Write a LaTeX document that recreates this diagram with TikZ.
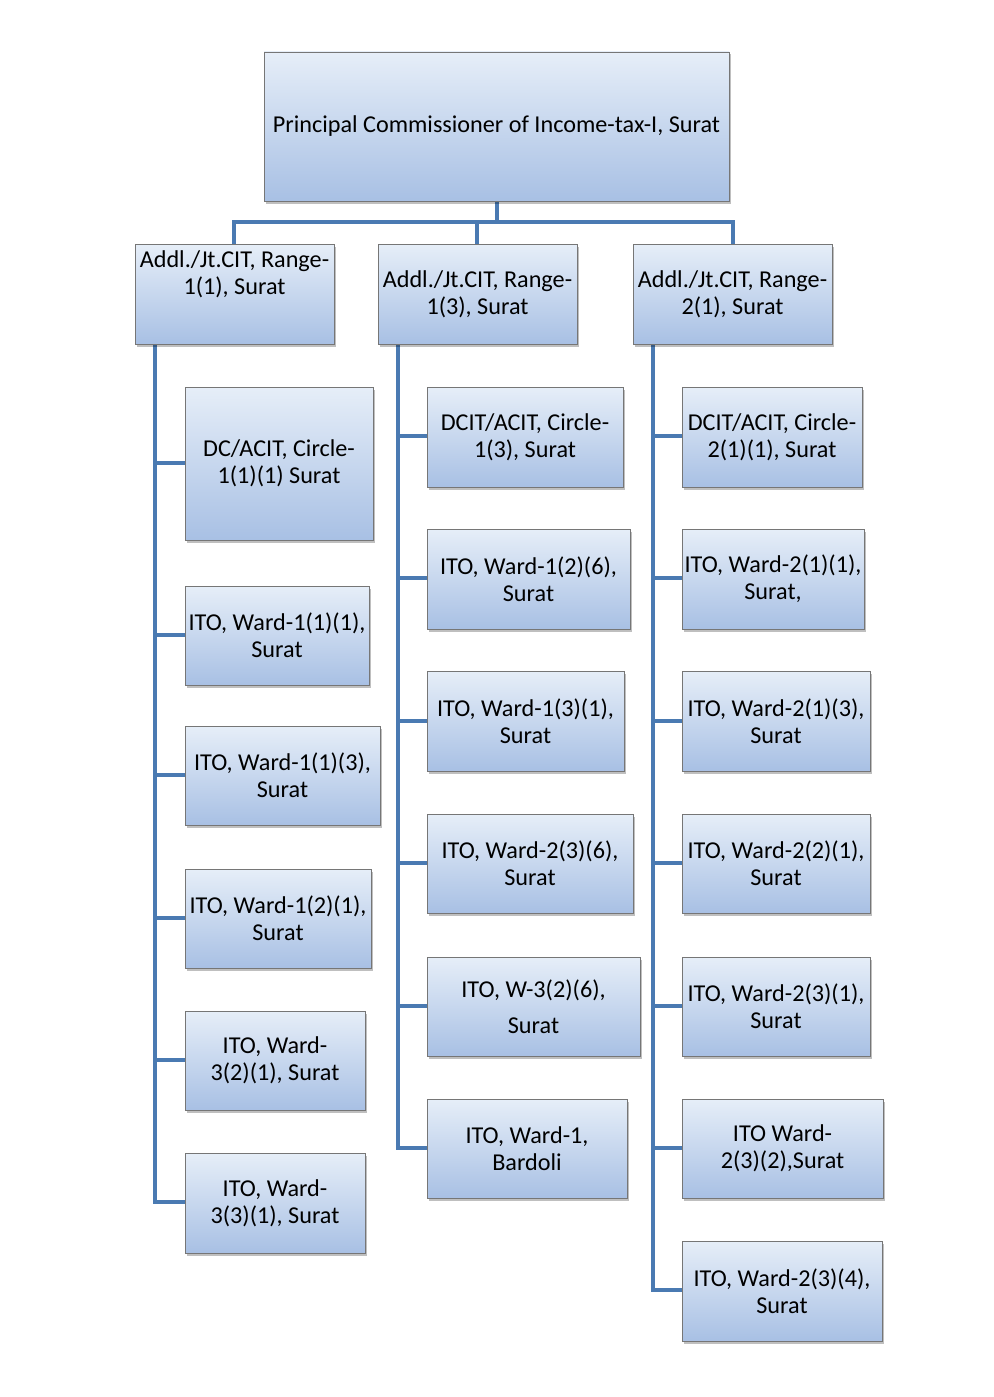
\documentclass[tikz,border=0pt]{standalone}
\usepackage{fontspec}
\setmainfont{Carlito}
\usetikzlibrary{shadows}
\definecolor{conncol}{RGB}{74,122,178}
\definecolor{boxtop}{RGB}{230,238,248}
\definecolor{boxbot}{RGB}{168,192,228}
\definecolor{boxline}{RGB}{118,118,118}
\newcommand\boxfont{\fontsize{24.2}{27}\selectfont}
\tikzset{
  box/.style={rectangle, draw=boxline, line width=0.9pt, top color=boxtop, bottom color=boxbot,
    align=center, inner sep=1pt, font=\boxfont, text=black,
    drop shadow={shadow xshift=1.5pt, shadow yshift=-2.5pt, opacity=0.25, fill=black}},
  conn/.style={draw=conncol, line width=4.8pt, line cap=rect, line join=miter}
}
\newcommand\bx[6]{%
  \pgfmathsetmacro\mybw{#4-#2}\pgfmathsetmacro\mybh{#5-#3}%
  \pgfmathsetmacro\mycx{(#2+#4)/2}\pgfmathsetmacro\mycy{(#3+#5)/2}%
  \node[box, minimum width=\mybw pt, minimum height=\mybh pt] (#1) at (\mycx,\mycy) {#6};}
\begin{document}
\begin{tikzpicture}[x=1pt,y=-1pt]
\useasboundingbox[fill=white] (0,0) rectangle (993,1397);
% coordinates for connectors
\coordinate (hub) at (497,222);
\coordinate (v1) at (155,344);
\coordinate (v2) at (398,344);
\coordinate (v3) at (653,344);
% connectors first (behind boxes)
\path (497,201) coordinate (topb);
\draw[conn] (topb) -- (hub);
\draw[conn] (234,244) |- (hub) -| (733,244);
\draw[conn] (477,244) -- (477,222);
\foreach \yy in {463,635,775,918,1060,1202} {\draw[conn] (185,\yy) -| (v1);}
\foreach \yy in {436,578,721,863,1006,1148} {\draw[conn] (427,\yy) -| (v2);}
\foreach \yy in {436,578,721,863,1006,1148,1290} {\draw[conn] (682,\yy) -| (v3);}
% boxes
\bx{top}{264}{52}{729}{201}{Principal Commissioner of Income-tax-I, Surat}
\bx{r1}{135}{244}{334}{344}{}
\node[font=\boxfont, align=center, anchor=north, inner sep=0pt] (r1t) at (234.5,250) {Addl./Jt.CIT, Range-\\1(1), Surat};
\bx{r2}{378}{244}{577}{344}{Addl./Jt.CIT, Range-\\1(3), Surat}
\bx{r3}{633}{244}{832}{344}{Addl./Jt.CIT, Range-\\2(1), Surat}
\bx{c1}{185}{387}{373}{540}{DC/ACIT, Circle-\\1(1)(1) Surat}
\bx{c2}{185}{586}{369}{685}{ITO, Ward-1(1)(1),\\Surat}
\bx{c3}{185}{726}{380}{825}{ITO, Ward-1(1)(3),\\Surat}
\bx{c4}{185}{869}{371}{968}{ITO, Ward-1(2)(1),\\Surat}
\bx{c5}{185}{1011}{365}{1110}{ITO, Ward-\\3(2)(1), Surat}
\bx{c6}{185}{1153}{365}{1253}{ITO, Ward-\\3(3)(1), Surat}
\bx{d1}{427}{387}{623}{487}{DCIT/ACIT, Circle-\\1(3), Surat}
\bx{d2}{427}{529}{630}{629}{ITO, Ward-1(2)(6),\\Surat}
\bx{d3}{427}{671}{624}{771}{ITO, Ward-1(3)(1),\\Surat}
\bx{d4}{427}{814}{633}{913}{ITO, Ward-2(3)(6),\\Surat}
\bx{d5}{427}{957}{640}{1056}{ITO, W-3(2)(6),\\[9pt]Surat}
\bx{d6}{427}{1099}{627}{1198}{ITO, Ward-1,\\Bardoli}
\bx{e1}{682}{387}{862}{487}{DCIT/ACIT, Circle-\\2(1)(1), Surat}
\bx{e2}{682}{529}{864}{629}{ITO, Ward-2(1)(1),\\Surat,}
\bx{e3}{682}{671}{870}{771}{ITO, Ward-2(1)(3),\\Surat}
\bx{e4}{682}{814}{870}{913}{ITO, Ward-2(2)(1),\\Surat}
\bx{e5}{682}{957}{870}{1056}{ITO, Ward-2(3)(1),\\Surat}
\bx{e6}{682}{1099}{883}{1198}{ITO Ward-\\2(3)(2),Surat}
\bx{e7}{682}{1241}{882}{1341}{ITO, Ward-2(3)(4),\\Surat}
\end{tikzpicture}
\end{document}
